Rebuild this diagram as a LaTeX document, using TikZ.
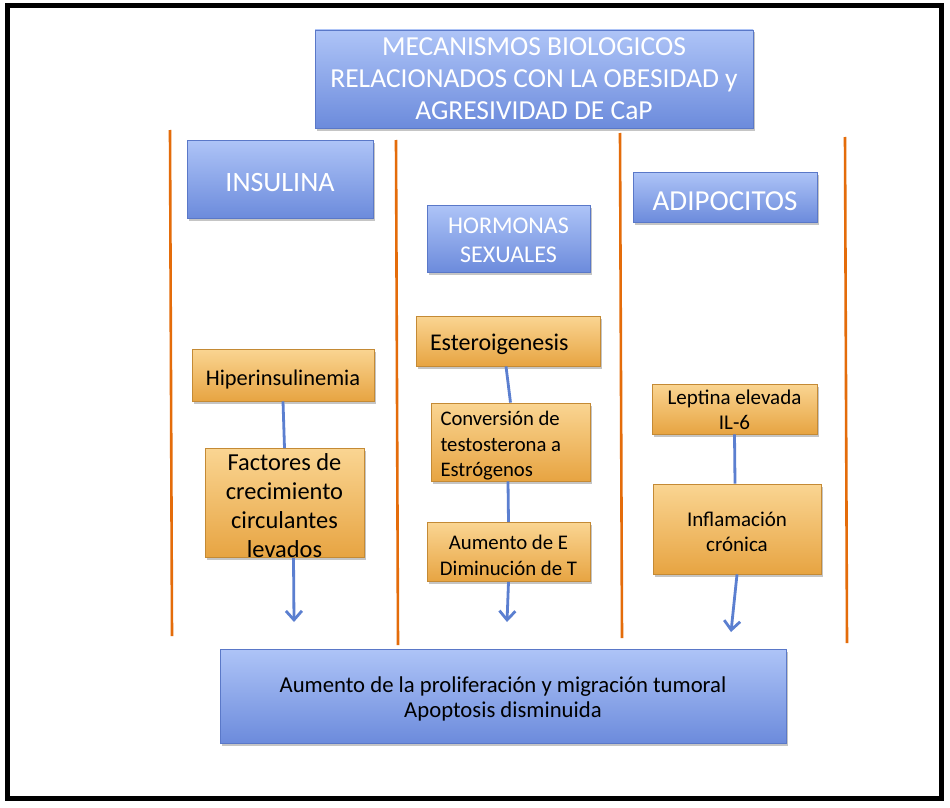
\documentclass[tikz,border=0pt]{standalone}
\usepackage{fontspec}
\setmainfont{Carlito}
\usetikzlibrary{shadows,arrows.meta}
\definecolor{bluetop}{HTML}{AEC4F7}
\definecolor{bluebot}{HTML}{6C8BDC}
\definecolor{blueedge}{HTML}{5A78C8}
\definecolor{orgtop}{HTML}{FAD592}
\definecolor{orgbot}{HTML}{E7A442}
\definecolor{orgedge}{HTML}{C48A35}
\definecolor{sepline}{HTML}{E46C0A}
\definecolor{conn}{HTML}{5B7FD0}
\tikzset{
  bluebox/.style={draw=blueedge, line width=0.8pt, top color=bluetop, bottom color=bluebot,
    inner sep=0pt,
    drop shadow={opacity=0.45, shadow xshift=2pt, shadow yshift=-2.5pt}},
  orgbox/.style={draw=orgedge, line width=0.8pt, top color=orgtop, bottom color=orgbot,
    inner sep=0pt,
    drop shadow={opacity=0.45, shadow xshift=2pt, shadow yshift=-2.5pt}},
  wtxt/.style={text=white, align=center, inner sep=0pt},
  btxt/.style={text=black, align=center, inner sep=0pt},
  sep/.style={draw=sepline, line width=2.6pt},
  link/.style={draw=conn, line width=2.8pt},
  arr/.style={draw=conn, line width=2.8pt, -{Straight Barb[length=9pt,width=16pt,line width=2.8pt]}},
}
\begin{document}
\begin{tikzpicture}[x=1pt,y=-1pt]
\useasboundingbox (0,0) rectangle (950,808);
\fill[white] (0,0) rectangle (950,808);
% frame
\draw[line width=5pt, black] (7,6) rectangle (941,798);
% separators
\coordinate (s1a) at (170,130); \coordinate (s1b) at (172,636);
\coordinate (s2a) at (396,140); \coordinate (s2b) at (398,645);
\coordinate (s3a) at (620,133); \coordinate (s3b) at (622,638);
\coordinate (s4a) at (845,137); \coordinate (s4b) at (847,643);
\draw[sep] (s1a) -- (s1b);
\draw[sep] (s2a) -- (s2b);
\draw[sep] (s3a) -- (s3b);
\draw[sep] (s4a) -- (s4b);
% title
\node[bluebox, minimum width=438pt, minimum height=98pt] (title) at (534,79) {};
\node[wtxt, font=\fontsize{27.5}{32}\selectfont] (titletxt) at (title.center)
  {MECANISMOS BIOLOGICOS\\RELACIONADOS CON LA OBESIDAD y\\AGRESIVIDAD DE CaP};
% column headers
\node[bluebox, minimum width=186pt, minimum height=78pt] (ins) at (280,179) {};
\node[wtxt, font=\fontsize{28}{30}\selectfont] (instxt) at ([yshift=-4pt]ins.center) {INSULINA};
\node[bluebox, minimum width=163pt, minimum height=67pt] (hor) at (508.5,238.5) {};
\node[wtxt, font=\fontsize{24}{29}\selectfont] (hortxt) at ([yshift=-2pt]hor.center) {HORMONAS\\SEXUALES};
\node[bluebox, minimum width=184pt, minimum height=50pt] (adi) at (725,197) {};
\node[wtxt, font=\fontsize{29}{30}\selectfont] (aditxt) at ([yshift=-4pt]adi.center) {ADIPOCITOS};
% column 1
\node[orgbox, minimum width=182pt, minimum height=52pt] (hip) at (283,375) {};
\node[btxt, font=\fontsize{22.4}{24}\selectfont] (hiptxt) at ([yshift=-5pt]hip.center) {Hiperinsulinemia};
\node[orgbox, minimum width=159pt, minimum height=109pt] (fac) at (284.5,503) {};
\node[btxt, font=\fontsize{24.4}{29}\selectfont] (factxt) at ([yshift=-2.5pt]fac.center)
  {Factores de\\crecimiento\\circulantes\\levados};
% column 2
\node[orgbox, minimum width=184pt, minimum height=50pt] (est) at (508,341) {};
\node[btxt, font=\fontsize{24}{26}\selectfont, text width=156pt, align=flush left] (esttxt) at ([yshift=-3pt]est.center) {Esteroigenesis};
\node[orgbox, minimum width=159pt, minimum height=78pt] (con) at (510.5,442) {};
\node[btxt, font=\fontsize{20.7}{25.5}\selectfont, text width=140pt, align=flush left] (contxt) at ([yshift=-4pt]con.center)
  {Conversión de\\testosterona a\\Estrógenos};
\node[orgbox, minimum width=163pt, minimum height=59pt] (aum) at (508.5,552) {};
\node[btxt, font=\fontsize{20.8}{26}\selectfont] (aumtxt) at ([yshift=-3pt]aum.center)
  {Aumento de E\\Diminución de T};
% column 3
\node[orgbox, minimum width=165pt, minimum height=50pt] (lep) at (734.5,409) {};
\node[btxt, font=\fontsize{21}{25}\selectfont] (leptxt) at ([yshift=-1pt]lep.center)
  {Leptina elevada\\IL-6};
\node[orgbox, minimum width=168pt, minimum height=90pt] (inf) at (737,529) {};
\node[btxt, font=\fontsize{21}{25}\selectfont] (inftxt) at ([yshift=-3pt]inf.center)
  {Inflamación\\crónica};
% bottom
\node[bluebox, minimum width=566pt, minimum height=94pt] (bot) at (503,696) {};
\node[btxt, font=\fontsize{22.7}{25}\selectfont] (bottxt) at ([yshift=-3pt]bot.center)
  {Aumento de la proliferación y migración tumoral\\Apoptosis disminuida};
% connectors
\coordinate (e1) at (294,622);
\coordinate (e2) at (507,622);
\coordinate (e3) at (731,632);
\draw[link] (hip.south) -- (fac.north);
\draw[arr] ([xshift=9pt]fac.south) -- (e1);
\draw[link] ([xshift=-2pt]est.south) -- (con.north);
\draw[link] ([xshift=-2.5pt]con.south) -- (aum.north);
\draw[arr] (aum.south) -- (e2);
\draw[link] (lep.south) -- ([xshift=-2pt]inf.north);
\draw[arr] (inf.south) -- (e3);
\end{tikzpicture}
\end{document}
